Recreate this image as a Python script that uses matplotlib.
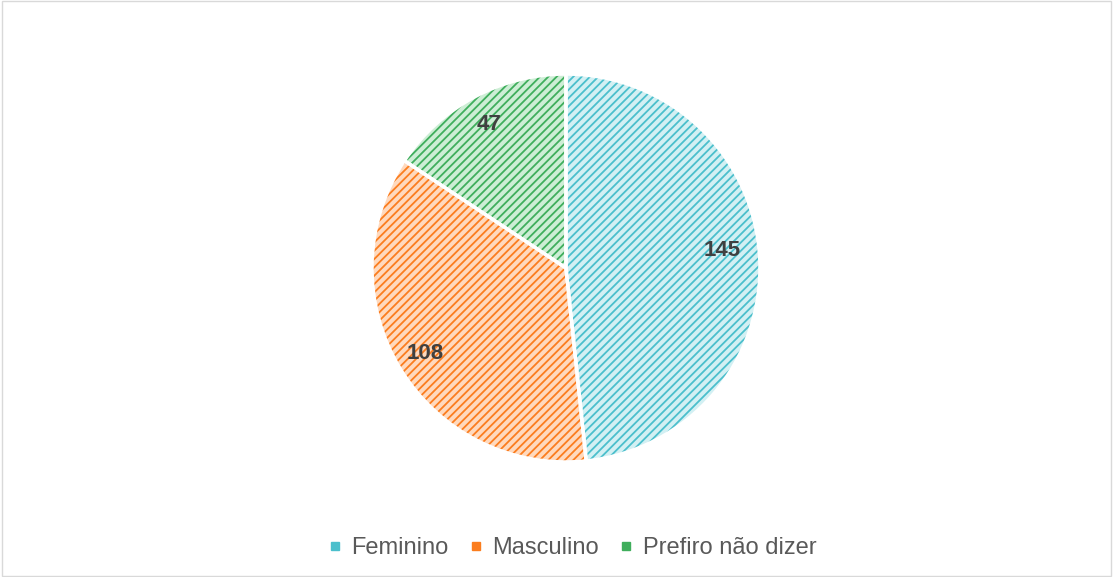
import math
import matplotlib.pyplot as plt
from matplotlib.lines import Line2D
from matplotlib.patches import Rectangle

plt.rcParams['font.family'] = ['Liberation Sans', 'DejaVu Sans']
plt.rcParams['hatch.linewidth'] = 1.3

categorias = ["Feminino", "Masculino", "Prefiro não dizer"]
valores = [145, 108, 47]
cor_escura = ["#4bbfcc", "#fb7d1e", "#3fae5c"]
cor_clara = ["#d3f0f3", "#ffd9bd", "#cdeed5"]

fig = plt.figure(figsize=(11.13, 5.77), dpi=100)
fig.patches.append(Rectangle((0.002, 0.002), 0.996, 0.996, transform=fig.transFigure,
                             fill=False, edgecolor="#d9d9d9", linewidth=1))

ax = fig.add_axes([0.3342, 0.1993, 0.3486, 0.6724])

# fill + hatch
wedges, _ = ax.pie(valores, startangle=90, counterclock=False,
                   colors=cor_clara, wedgeprops=dict(linewidth=0))
for w, c in zip(wedges, cor_escura):
    w.set_hatch("////")
    w.set_edgecolor(c)

# white separators on top
ax.pie(valores, startangle=90, counterclock=False,
       wedgeprops=dict(facecolor="none", edgecolor="white", linewidth=2.5))

# value labels
total = sum(valores)
ang = 90.0
dist = [0.81, 0.85, 0.84]
desvio = [3.5, 0, 0]
for v, d, o in zip(valores, dist, desvio):
    meio = ang - v / total * 360 / 2 + o
    ang -= v / total * 360
    x = d * math.cos(math.radians(meio))
    y = d * math.sin(math.radians(meio))
    ax.text(x, y, str(v), ha="center", va="center", fontsize=16,
            fontweight="bold", color="#404040")
ax.set_xlim(-1, 1)
ax.set_ylim(-1, 1)
ax.set_aspect("equal")

handles = [Line2D([], [], marker="s", linestyle="none", markersize=5.5,
                  markerfacecolor=c, markeredgecolor=c) for c in cor_escura]
fig.legend(handles, categorias, loc="center", bbox_to_anchor=(0.513, 0.05),
           ncol=3, frameon=False, fontsize=17, labelcolor="#595959",
           handletextpad=0.3, columnspacing=0.75, handlelength=0.8)

fig.savefig("out.png", dpi=100)
